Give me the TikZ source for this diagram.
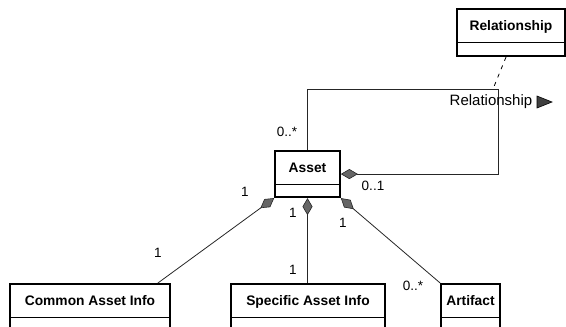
\documentclass[tikz,border=0pt]{standalone}
\usepackage{fontspec}
\setmainfont{Liberation Sans}
\usetikzlibrary{shapes.multipart,arrows.meta,calc}
\newcommand\clsbody[2]{\rule[-11pt]{0pt}{32pt}#1\nodepart{two}\rule{0pt}{#2pt}}
\tikzset{
  cls/.style={rectangle split, rectangle split parts=2, draw=black, line width=1.7pt,
    inner xsep=0pt, inner ysep=0pt, anchor=north, fill=white,
    font=\fontsize{13.8}{16}\selectfont\bfseries},
  conn/.style={line width=0.8pt, draw=black!85},
  agg/.style={conn, {Diamond[length=17pt,width=10pt,fill=black!60,line width=0.6pt]}-},
  lbl/.style={inner sep=0pt, font=\fontsize{13.5}{15}\selectfont},
}
\begin{document}
\begin{tikzpicture}[x=1pt,y=-1pt]
\useasboundingbox (0,0) rectangle (566,327);
% classes
\node[cls, minimum width=108pt] (rel) at (511,8) {\clsbody{Relationship}{12}};
\node[cls, minimum width=65pt] (asset) at (307.5,150) {\clsbody{Asset}{11}};
\node[cls, minimum width=160pt] (common) at (90,283) {\clsbody{Common Asset Info}{10}};
\node[cls, minimum width=154pt] (specific) at (308,283) {\clsbody{Specific Asset Info}{10}};
\node[cls, minimum width=59pt] (artifact) at (470.5,283) {\clsbody{Artifact}{10}};
% self association
\coordinate (loopR) at (498,89);
\draw[agg] (asset.east) -| (loopR) -| (asset.north);
\coordinate (dashend) at (493,89);
\draw[conn, draw=black, dash pattern=on 4pt off 5pt] ($(rel.south)+(-5,0)$) -- (dashend);
% aggregations
\draw[agg] (asset.south west) -- ($(common.north west)!0.92!(common.north east)$);
\draw[agg] (asset.south) -- (asset.south |- specific.north);
\draw[agg] (asset.south east) -- (artifact.north west);
% labels
\node[lbl] (m1) at (287,132) {0..*};
\node[lbl] (m2) at (373,186) {0..1};
\node[lbl, font=\fontsize{15}{17}\selectfont] (relname) at (491,102) {Relationship};
\fill[black!75, draw=black, line width=0.6pt] (537,96) -- (552,102) -- (537,108) -- cycle;
\node[lbl] (m3) at (245,192) {1};
\node[lbl] (m4) at (293,213) {1};
\node[lbl] (m5) at (343,223) {1};
\node[lbl] (m6) at (158,253) {1};
\node[lbl] (m7) at (293,270) {1};
\node[lbl] (m8) at (413,286) {0..*};
\end{tikzpicture}
\end{document}
